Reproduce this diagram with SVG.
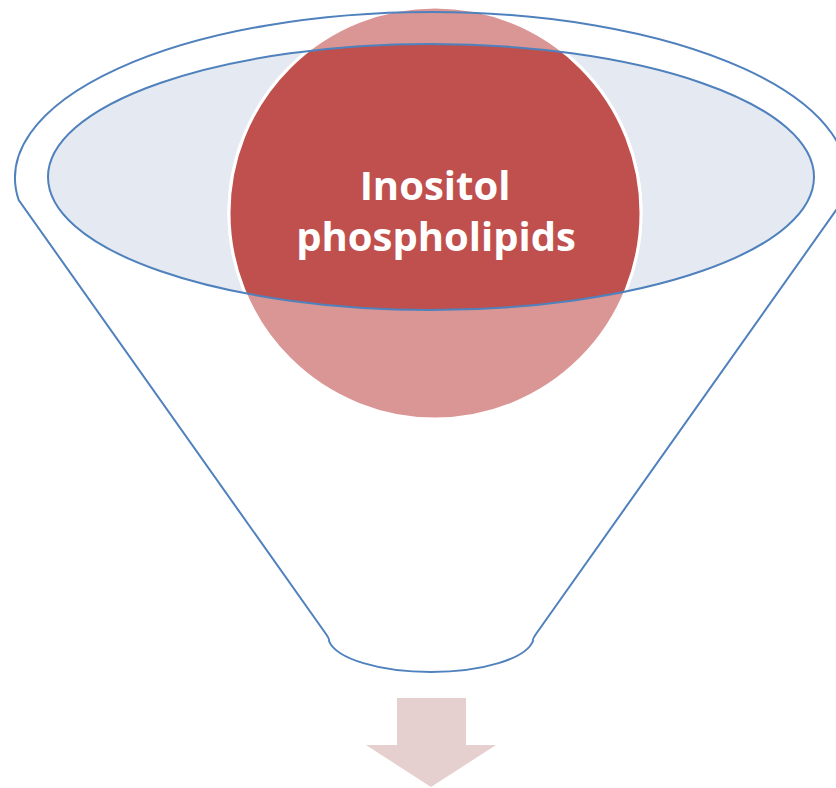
<svg xmlns="http://www.w3.org/2000/svg" width="836" height="788" viewBox="0 0 836 788">
  <style>
    .outline { fill: none; stroke: #4F81BD; stroke-width: 2; }
    .label { font-family: "Open Sans", "Liberation Sans", sans-serif; font-weight: bold; font-size: 40px; fill: #FFFFFF; text-anchor: middle; }
  </style>
  <defs>
    <clipPath id="mouth">
      <ellipse cx="431" cy="177" rx="383" ry="133"/>
    </clipPath>
  </defs>
  <rect width="836" height="788" fill="#FFFFFF"/>

  <!-- funnel body -->
  <g id="funnel">
    <ellipse cx="431" cy="177" rx="383" ry="133" fill="#E4E9F2"/>
  </g>

  <!-- item dropped into the funnel -->
  <g id="item-inositol">
    <circle cx="435" cy="213" r="206" fill="#D99694" stroke="#FFFFFF" stroke-width="3"/>
    <circle cx="435" cy="213" r="206" fill="#C0504D" stroke="#FFFFFF" stroke-width="3" clip-path="url(#mouth)"/>
    <text class="label" x="435" y="200">Inositol</text>
    <text class="label" x="436" y="251">phospholipids</text>
  </g>

  <!-- funnel outlines drawn above the item -->
  <g id="funnel-outline">
    <ellipse class="outline" cx="431" cy="177" rx="383" ry="133"/>
    <path class="outline" d="M 18.7 200 A 416 166 0 1 1 843.3 200 L 536 634 Q 532 640 533 641 A 103 36 0 0 1 329 641 Q 330 640 326 634 Z"/>
  </g>

  <!-- output arrow -->
  <g id="connectors">
    <polygon points="397,698 466,698 466,745 496,745 431,787 366,745 397,745" fill="#E6CFCF"/>
  </g>
</svg>
